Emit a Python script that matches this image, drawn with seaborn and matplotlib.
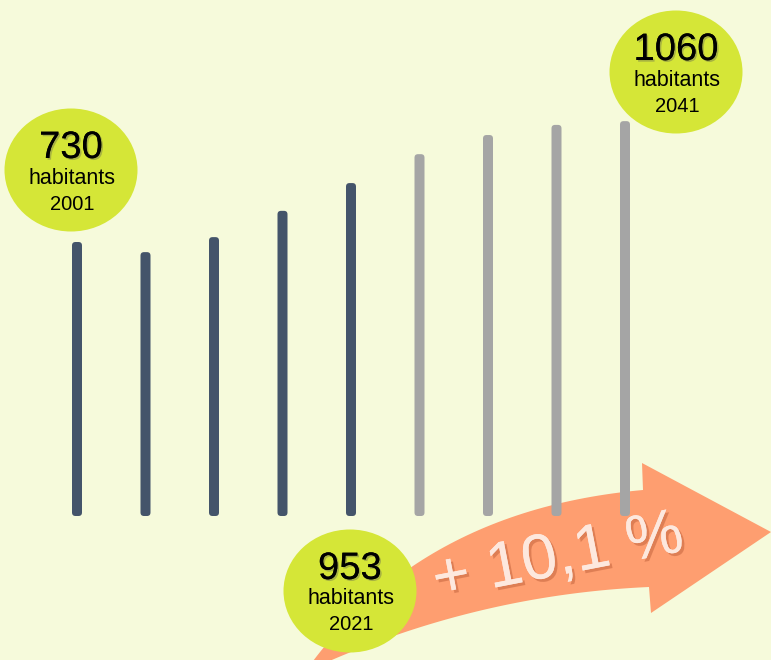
import numpy as np
import pandas as pd
import seaborn as sns
import matplotlib
matplotlib.use("Agg")
import matplotlib.pyplot as plt
from matplotlib.patches import Ellipse, Polygon, FancyBboxPatch
import matplotlib.patheffects as pe

# ---- data ----
years = ["2001", "2006", "2011", "2016", "2021", "2026", "2031", "2036", "2041"]
population = [730, 703, 743, 813, 887, 964, 1015, 1042, 1052]
kind = ["observed"] * 5 + ["projected"] * 4
label_values = ["730", "953", "1060"]
label_years = ["2001", "2021", "2041"]
growth_label = "+ 10,1 %"

BG = "#f6fadb"
DARK = "#44546a"
GRAY = "#a5a5a5"
LIME = "#d5e637"
ORANGE = "#fe9e70"

sns.set_theme(style="white")
plt.rcParams["font.family"] = ["Liberation Sans", "DejaVu Sans"]

W, H = 771, 660
fig = plt.figure(figsize=(W / 100, H / 100), dpi=100, facecolor=BG)

# background decoration axes (pixel coordinates)
back = fig.add_axes([0, 0, 1, 1], zorder=0)
back.set_xlim(0, W)
back.set_ylim(H, 0)
back.axis("off")
back.set_facecolor(BG)

def bez(p0, p1, p2, n=60):
    t = np.linspace(0, 1, n)[:, None]
    p0, p1, p2 = map(np.array, (p0, p1, p2))
    return (1 - t) ** 2 * p0 + 2 * (1 - t) * t * p1 + t ** 2 * p2

top = bez((305, 672), (420, 510), (643, 490))
bottom = bez((649, 587), (470, 595), (305, 672))
head = np.array([(642, 463), (771, 532), (651, 613)])
pts = np.vstack([top, head, bottom])
back.add_patch(Polygon(pts, closed=True, facecolor=ORANGE, edgecolor="none"))

# bar axes
ax = fig.add_axes([0, 0, 1, 1], zorder=1)
ax.patch.set_alpha(0)
df = pd.DataFrame({"year": years, "pop": population, "kind": kind})
sns.barplot(data=df, x="year", y="pop", hue="kind",
            palette={"observed": DARK, "projected": GRAY},
            width=0.146, dodge=False, legend=False, ax=ax, saturation=1,
            linewidth=0, edgecolor="none")
px_per_unit = 68.5
ax.set_xlim(-77 / px_per_unit, 8 + (W - 625) / px_per_unit)
scale = 274 / 730.0
ax.set_ylim(-144 / scale, (H - 144) / scale)
ax.axis("off")

# round the bar corners (same geometry as seaborn's bars)
aspect = (1 / scale) / (1 / px_per_unit)
for p in list(ax.patches):
    x, y = p.get_x(), p.get_y()
    w, h = p.get_width(), p.get_height()
    fc = p.get_facecolor()
    p.set_visible(False)
    ax.add_patch(FancyBboxPatch((x, y), w, h,
                                boxstyle="round,pad=0,rounding_size=%f" % (3.5 / px_per_unit),
                                mutation_aspect=aspect, facecolor=fc, edgecolor="none"))

# front axes: circles and texts
front = fig.add_axes([0, 0, 1, 1], zorder=2)
front.set_xlim(0, W)
front.set_ylim(H, 0)
front.axis("off")
front.patch.set_alpha(0)

circles = [(71, 170), (350, 591), (676, 72)]
shadow = [pe.withSimplePatchShadow(offset=(1.2, -1.2), shadow_rgbFace="#555555", alpha=0.35), pe.Normal()]
for (cx, cy), val, yr in zip(circles, label_values, label_years):
    front.add_patch(Ellipse((cx, cy), 133, 123, facecolor=LIME, edgecolor="none"))
    front.text(cx, cy - 22, val, fontsize=27.5, ha="center", va="center", color="black",
               path_effects=shadow)
    front.text(cx + 1, cy + 8, "habitants", fontsize=15.5, ha="center", va="center", color="black")
    front.text(cx + 1, cy + 34, yr, fontsize=14.5, ha="center", va="center", color="black")

front.text(558, 558, growth_label, fontsize=46, ha="center", va="center", rotation=11,
           color="#fde8de", rotation_mode="anchor",
           path_effects=[pe.withSimplePatchShadow(offset=(2, -2), shadow_rgbFace="#c0603a", alpha=0.5),
                         pe.Normal()])

fig.savefig("out.png", dpi=100, facecolor=BG)
